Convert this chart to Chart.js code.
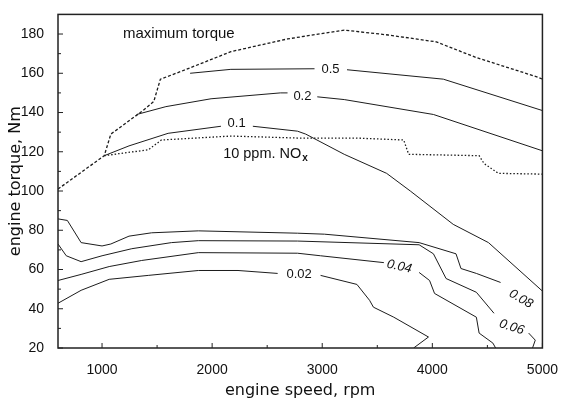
<!DOCTYPE html>
<html>
<head>
<meta charset="utf-8">
<script src="https://cdn.jsdelivr.net/npm/chart.js@4"></script>
<style>
html, body { margin: 0; padding: 0; background: #fff; }
</style>
</head>
<body>
<canvas id="torqueChart" width="564" height="401"></canvas>
<script>
// tick labels
const xTicks = [1000, 2000, 3000, 4000, 5000];
const yTicks = [20, 40, 60, 80, 100, 120, 140, 160, 180];

// maximum torque curve (dashed)
const maxSpeed  = [600, 1020, 1080, 1360, 1470, 1530, 1720, 2170, 2685, 3200, 3600, 4036, 4400, 4960, 5000];
const maxTorque = [101, 118, 129, 140.5, 145.6, 157, 161, 171, 177.5, 182, 179.5, 176, 168, 158, 157];

// 10 ppm NOx line (dotted)
const noxSpeed  = [1020, 1150, 1420, 1540, 2170, 2775, 3300, 3740, 3785, 4425, 4470, 4600, 5000];
const noxTorque = [118, 119, 121, 126, 128, 127, 127, 126, 118.7, 118, 114, 109, 108.6];

// iso-lines, null = gap for the label
const c05Speed  = [1800, 2170, 2930, 3080, 3225, 4100, 5000];
const c05Torque = [160, 162, 162.3, null, 161.8, 157, 141];

const c02Speed  = [1315, 1580, 1990, 2620, 2685, 2800, 2955, 3200, 4010, 5000];
const c02Torque = [139, 143, 147, 150, 150, null, 148, 146.6, 139, 120.5];

const c01Speed  = [1020, 1245, 1600, 2080, 2220, 2370, 2775, 2850, 3200, 3585, 3800, 4190, 4510, 5000];
const c01Torque = [118, 123, 129.4, 133, null, 133, 130.5, 129, 118.7, 109, 100, 83, 73.7, 49];

const c008Speed  = [600, 685, 810, 1000, 1080, 1245, 1450, 1875, 2775, 3020, 3880, 4215, 4260, 4400, 4620];
const c008Torque = [85.8, 85, 73.7, 72, 73, 77, 78.7, 79.7, 78.5, 78, 73.7, 68, 60.5, 58, 53.4];

const c006Speed  = [600, 675, 810, 1000, 1270, 1630, 1875, 2775, 3880, 4010, 4125, 4400, 4560, 4700, 4875, 4935, 4910];
const c006Torque = [73, 67, 64, 67, 70.6, 73.7, 74.7, 74.5, 72.6, 68, 55.4, 48.4, 37.7, null, 27.6, 24, 20];

const c004Speed  = [600, 810, 1065, 1360, 1875, 2775, 2985, 3560, 3700, 3880, 3975, 4020, 4400, 4425, 4550, 4575];
const c004Torque = [54.4, 57.5, 61.5, 64.6, 68.6, 68.3, 67, 63.5, null, 58.5, 54.4, 47.8, 35.7, 27.6, 22.5, 20];

const c002Speed  = [600, 810, 1065, 1420, 1875, 2235, 2595, 2800, 2985, 3315, 3430, 3465, 3650, 3965, 3830];
const c002Torque = [42.8, 49.4, 55, 57, 59.5, 59.5, 58, null, 57, 52.4, 44.3, 40.8, 35.7, 25.6, 20];

const toPoints = (xs, ys) => xs.map((x, i) => ({ x: x, y: ys[i] }));

const line = (xs, ys, dash) => ({
    data: toPoints(xs, ys),
    showLine: true,
    borderColor: '#1c1c1c',
    borderWidth: dash ? 1.3 : 1,
    borderDash: dash || [],
    pointRadius: 0,
    spanGaps: false,
    tension: 0
});

// text on the plot, anchored in data units
const notes = [
    { text: '0.5', x: 3075, y: 161.8, rot: 0, italic: false },
    { text: '0.2', x: 2820, y: 148.2, rot: 0, italic: false },
    { text: '0.1', x: 2222, y: 134.2, rot: 0, italic: false },
    { text: '0.02', x: 2790, y: 57.5, rot: 0, italic: false },
    { text: '0.04', x: 3700, y: 61.5, rot: 12, italic: true },
    { text: '0.06', x: 4720, y: 30.6, rot: 18, italic: true },
    { text: '0.08', x: 4805, y: 45, rot: 30, italic: true }
];

const plotDecor = {
    id: 'plotDecor',
    afterDatasetsDraw(chart) {
        const { ctx, chartArea: a, scales: { x, y } } = chart;
        ctx.save();
        ctx.strokeStyle = '#222';
        ctx.lineWidth = 1.5;
        ctx.strokeRect(a.left, a.top, a.right - a.left, a.bottom - a.top);

        // inward ticks, minor ones halfway
        ctx.lineWidth = 1;
        ctx.beginPath();
        xTicks.forEach((v, i) => {
            const px = x.getPixelForValue(v);
            ctx.moveTo(px, a.bottom); ctx.lineTo(px, a.bottom - 5);
            const half = v - (xTicks[1] - xTicks[0]) / 2;
            if (half > x.min) {
                const hx = x.getPixelForValue(half);
                ctx.moveTo(hx, a.bottom); ctx.lineTo(hx, a.bottom - 3);
            }
        });
        yTicks.forEach(v => {
            const py = y.getPixelForValue(v);
            ctx.moveTo(a.left, py); ctx.lineTo(a.left + 5, py);
            const half = v + (yTicks[1] - yTicks[0]) / 2;
            if (half < y.max) {
                const hy = y.getPixelForValue(half);
                ctx.moveTo(a.left, hy); ctx.lineTo(a.left + 3, hy);
            }
        });
        ctx.stroke();

        ctx.fillStyle = '#111';
        ctx.textBaseline = 'middle';
        ctx.textAlign = 'center';
        notes.forEach(n => {
            ctx.save();
            ctx.translate(x.getPixelForValue(n.x), y.getPixelForValue(n.y));
            ctx.rotate(n.rot * Math.PI / 180);
            ctx.font = (n.italic ? 'italic ' : '') + '13px "Liberation Sans", Arial, sans-serif';
            ctx.fillText(n.text, 0, 0);
            ctx.restore();
        });

        ctx.textAlign = 'left';
        ctx.font = '15px "Liberation Sans", Arial, sans-serif';
        ctx.fillText('maximum torque', x.getPixelForValue(1190), y.getPixelForValue(180));

        ctx.font = '14.5px "Liberation Sans", Arial, sans-serif';
        const nx = x.getPixelForValue(2100);
        const ny = y.getPixelForValue(118.7);
        const main = '10 ppm. NO';
        ctx.fillText(main, nx, ny);
        const w = ctx.measureText(main).width;
        ctx.font = 'bold 10px "Liberation Sans", Arial, sans-serif';
        ctx.fillText('x', nx + w + 1, ny + 4);
        ctx.restore();
    }
};

new Chart(document.getElementById('torqueChart'), {
    type: 'scatter',
    data: {
        datasets: [
            line(maxSpeed, maxTorque, [3, 2]),
            line(noxSpeed, noxTorque, [1.5, 2]),
            line(c05Speed, c05Torque),
            line(c02Speed, c02Torque),
            line(c01Speed, c01Torque),
            line(c008Speed, c008Torque),
            line(c006Speed, c006Torque),
            line(c004Speed, c004Torque),
            line(c002Speed, c002Torque)
        ]
    },
    options: {
        responsive: false,
        animation: false,
        layout: { padding: { top: 12, right: 17, left: 0, bottom: 0 } },
        plugins: {
            legend: { display: false },
            tooltip: { enabled: false }
        },
        scales: {
            x: {
                type: 'linear',
                min: 600,
                max: 5000,
                afterBuildTicks: s => { s.ticks = xTicks.map(v => ({ value: v })); },
                afterFit: s => { s.height = 53; },
                grid: { display: false },
                border: { display: false },
                ticks: {
                    color: '#111',
                    padding: 6,
                    maxRotation: 0,
                    callback: v => String(v),
                    font: { family: '"Liberation Sans", Arial, sans-serif', size: 14 }
                },
                title: {
                    display: true,
                    text: 'engine speed, rpm',
                    color: '#111',
                    padding: { top: 0, bottom: 1 },
                    font: { family: '"DejaVu Sans", sans-serif', size: 16 }
                }
            },
            y: {
                type: 'linear',
                min: 20,
                max: 190,
                afterBuildTicks: s => { s.ticks = yTicks.map(v => ({ value: v })); },
                afterFit: s => { s.width = 58; },
                grid: { display: false },
                border: { display: false },
                ticks: {
                    color: '#111',
                    padding: 6,
                    callback: v => String(v),
                    font: { family: '"Liberation Sans", Arial, sans-serif', size: 14 }
                },
                title: {
                    display: true,
                    text: 'engine torque, Nm',
                    color: '#111',
                    padding: { top: 6, bottom: 0 },
                    font: { family: '"DejaVu Sans", sans-serif', size: 16 }
                }
            }
        }
    },
    plugins: [plotDecor]
});
</script>
</body>
</html>
